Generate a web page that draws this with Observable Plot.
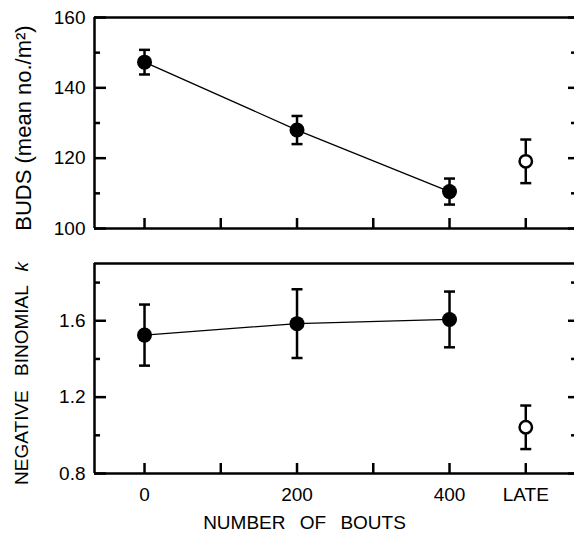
<!DOCTYPE html>
<html><head><meta charset="utf-8">
<script src="https://cdn.jsdelivr.net/npm/d3@7"></script>
<script src="https://cdn.jsdelivr.net/npm/@observablehq/plot@0.6"></script>
<style>
body{margin:0;background:#fff;}
#chart{width:574px;height:534px;position:relative;overflow:hidden;background:#fff}
#chart svg{display:block}
</style></head><body><div id="chart"></div>
<script>
// ---- data ----
const bouts = [0, 200, 400];
const lateX = 500;
const xTickValues = [0, 200, 400, 500];
const xTickLabels = ["0", "200", "400", "LATE"];
const xMinorTicks = [100, 300];

const budsMean = [147.3, 128.0, 110.5];
const budsErr = [3.5, 4.0, 3.7];
const budsLateMean = 119.1;
const budsLateErr = 6.2;
const budsTicks = [100, 120, 140, 160];
const budsMinor = [110, 130, 150];

const kMean = [1.525, 1.585, 1.607];
const kErr = [0.16, 0.18, 0.146];
const kLateMean = 1.042;
const kLateErr = 0.114;
const kTicks = [0.8, 1.2, 1.6];
const kMinor = [1.0, 1.4, 1.8];

const xDomain = [-65.6, 563.9];
const font = "'Liberation Sans', Arial, Helvetica, sans-serif";

const capSymbol = {draw(ctx, size) { const w = Math.sqrt(size / Math.PI); ctx.moveTo(-w, 0); ctx.lineTo(w, 0); }};

function panel({mean, err, lateMean, lateErr, yDomain, yTicks, yMinor, yFmt, height, marginTop, marginBottom, showXLabels, yTitle, titleSize, titleDx, titleDy}) {
  const rows = bouts.map((b, i) => ({x: b, m: mean[i], lo: mean[i] - err[i], hi: mean[i] + err[i]}));
  const late = [{x: lateX, m: lateMean, lo: lateMean - lateErr, hi: lateMean + lateErr}];
  const all = rows.concat(late);
  const marks = [
    Plot.ruleY([yDomain[0], yDomain[1]], {strokeWidth: 2.5}),
    Plot.ruleX([xDomain[0]], {strokeWidth: 2.5}),
    Plot.axisY({anchor: "left", ticks: yTicks, tickSize: -12, tickPadding: 21, tickFormat: yFmt, strokeWidth: 2.5, label: null}),
    Plot.axisY({anchor: "left", ticks: yMinor, tickSize: -6, tickFormat: () => "", strokeWidth: 2.5, label: null}),
    Plot.axisY({anchor: "right", ticks: yTicks, tickSize: -7, tickFormat: () => "", strokeWidth: 2.5, label: null}),
    Plot.axisY({anchor: "right", ticks: yMinor, tickSize: -4, tickFormat: () => "", strokeWidth: 2.5, label: null}),
    Plot.axisX({anchor: "bottom", ticks: xTickValues, tickSize: -10, tickPadding: 24, strokeWidth: 2.5, label: null,
      tickFormat: showXLabels ? (d => xTickLabels[xTickValues.indexOf(d)]) : () => ""}),
    Plot.axisX({anchor: "bottom", ticks: xMinorTicks, tickSize: -10, tickFormat: () => "", strokeWidth: 2.5, label: null}),
    Plot.line(rows, {x: "x", y: "m", stroke: "black", strokeWidth: 1.3}),
    Plot.ruleX(all, {x: "x", y1: "lo", y2: "hi", stroke: "black", strokeWidth: 2.5}),
    Plot.dot(all, {x: "x", y: "lo", symbol: capSymbol, r: 5.5, stroke: "black", fill: "none", strokeWidth: 2.5}),
    Plot.dot(all, {x: "x", y: "hi", symbol: capSymbol, r: 5.5, stroke: "black", fill: "none", strokeWidth: 2.5}),
    Plot.dot(rows, {x: "x", y: "m", r: 7.5, fill: "black", stroke: "none"}),
    Plot.dot(late, {x: "x", y: "m", r: 6.2, fill: "white", stroke: "black", strokeWidth: 2.5}),
    Plot.text([yTitle], {frameAnchor: "middle", rotate: -90, dx: titleDx, dy: titleDy, fontSize: titleSize, fill: "black"})
  ];
  if (showXLabels) {
    marks.push(Plot.text(["NUMBER OF BOUTS"], {frameAnchor: "bottom", dx: -30, dy: 49, fontSize: 19, fill: "black", lineAnchor: "middle"}));
  }
  return Plot.plot({
    width: 574, height, marginLeft: 94, marginRight: 0, marginTop, marginBottom,
    x: {type: "linear", domain: xDomain, axis: null},
    y: {type: "linear", domain: yDomain, axis: null},
    style: {fontFamily: font, fontSize: "19px", background: "white", color: "black", overflow: "visible"},
    marks
  });
}

const topPanel = panel({
  mean: budsMean, err: budsErr, lateMean: budsLateMean, lateErr: budsLateErr,
  yDomain: [100, 160], yTicks: budsTicks, yMinor: budsMinor, yFmt: d => String(d),
  height: 245, marginTop: 17, marginBottom: 17, showXLabels: false,
  yTitle: "BUDS (mean no./m\u00b2)", titleSize: 22, titleDx: -311, titleDy: 5
});
const bottomPanel = panel({
  mean: kMean, err: kErr, lateMean: kLateMean, lateErr: kLateErr,
  yDomain: [0.8, 1.9], yTicks: kTicks, yMinor: kMinor, yFmt: d => d.toFixed(1),
  height: 289, marginTop: 18, marginBottom: 61, showXLabels: true,
  yTitle: "NEGATIVE BINOMIAL", titleSize: 19, titleDx: -313, titleDy: 5
});
const chart = document.getElementById("chart");
chart.appendChild(topPanel);
chart.appendChild(bottomPanel);

bottomPanel.querySelectorAll("text").forEach(el => {
  if (el.textContent === "NEGATIVE BINOMIAL") {
    el.textContent = "NEGATIVE BINOMIAL ";
    const ts = document.createElementNS("http://www.w3.org/2000/svg", "tspan");
    ts.setAttribute("font-style", "italic");
    ts.textContent = "k";
    el.appendChild(ts);
    el.style.wordSpacing = "9px";
  }
  if (el.textContent === "NUMBER OF BOUTS") el.style.wordSpacing = "9px";
});
</script></body></html>
